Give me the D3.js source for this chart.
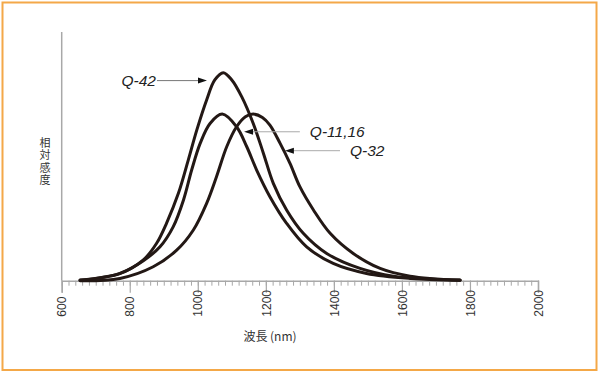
<!DOCTYPE html>
<html>
<head>
<meta charset="utf-8">
<script src="https://cdn.jsdelivr.net/npm/d3@7"></script>
<style>
  body { margin: 0; background: #fff; }
  svg { display: block; }
</style>
</head>
<body>
<svg width="600" height="373"></svg>
<script>
// wavelength (nm) and relative sensitivity
var q42 = [[654, 0.003], [771, 0.035], [840, 0.10], [879, 0.18], [908, 0.276], [943, 0.42], [972, 0.58],
  [997, 0.724], [1026, 0.869], [1050, 0.965], [1075, 1.0], [1100, 0.965], [1129, 0.885], [1163, 0.756],
  [1193, 0.612], [1222, 0.468], [1261, 0.34], [1310, 0.228], [1379, 0.131], [1477, 0.059],
  [1575, 0.022], [1771, 0.003]];
var q1116 = [[654, 0.002], [771, 0.034], [840, 0.096], [889, 0.163], [928, 0.26], [958, 0.388],
  [982, 0.532], [1007, 0.66], [1036, 0.756], [1072, 0.801], [1114, 0.74], [1144, 0.644], [1173, 0.532],
  [1212, 0.404], [1261, 0.276], [1320, 0.163], [1398, 0.083], [1496, 0.035], [1624, 0.011], [1771, 0.002]];
var q32 = [[654, 0.0], [771, 0.011], [869, 0.067], [938, 0.147], [987, 0.244], [1026, 0.372],
  [1055, 0.5], [1085, 0.644], [1114, 0.74], [1140, 0.788], [1163, 0.801], [1190, 0.785], [1212, 0.748],
  [1242, 0.66], [1271, 0.564], [1300, 0.452], [1340, 0.34], [1389, 0.228], [1457, 0.131], [1536, 0.059],
  [1624, 0.022], [1771, 0.002]];

var xTicks = [600, 800, 1000, 1200, 1400, 1600, 1800, 2000];
var yLabel = "相対感度";
var xLabel = "波長 (nm)";

// label, arrow tip [nm, value], arrow tail nm, side
var notes = [
  { name: "Q-42", tip: [1027, 0.962], tail: 880, side: "left" },
  { name: "Q-11,16", tip: [1136, 0.716], tail: 1300, side: "right" },
  { name: "Q-32", tip: [1256, 0.625], tail: 1418, side: "right" }
];

var svg = d3.select("svg");

// orange frame
svg.append("rect")
  .attr("x", 2.5).attr("y", 2.5)
  .attr("width", 594).attr("height", 367.5)
  .attr("fill", "none")
  .attr("stroke", "#f4a848")
  .attr("stroke-width", 2);

var x = d3.scaleLinear().domain([600, 2000]).range([61.7, 538]);
var y = d3.scaleLinear().domain([0, 1]).range([280.7, 72.7]);

var axisCol = "#a8a8a8";

// y axis line
svg.append("line")
  .attr("x1", x(600)).attr("x2", x(600))
  .attr("y1", 32).attr("y2", y(0))
  .attr("stroke", axisCol).attr("stroke-width", 1.5);

// x axis: minor ticks every 20 nm, labelled every 200
var xg = svg.append("g").attr("transform", "translate(0," + y(0) + ")");
xg.call(d3.axisBottom(x).tickValues(d3.range(600, 2001, 20)).tickSize(5).tickFormat(""))
xg.call(g => g.select(".domain").remove());
xg.selectAll(".tick line").attr("stroke", axisCol).attr("stroke-width", 1);

var xg2 = svg.append("g").attr("transform", "translate(0," + y(0) + ")");
xg2.call(d3.axisBottom(x).tickValues(xTicks).tickSize(12).tickFormat(d3.format("d")));
xg2.select(".domain").attr("stroke", axisCol).attr("stroke-width", 1.5);
xg2.selectAll(".tick line").attr("stroke", axisCol).attr("stroke-width", 1.2);
xg2.selectAll(".tick text")
  .attr("transform", "rotate(-90)")
  .attr("x", -36).attr("y", 0).attr("dy", "0.35em")
  .attr("text-anchor", "start")
  .attr("fill", "#333")
  .style("font-family", "Liberation Sans, Arial, sans-serif")
  .style("font-size", "12px");

// axis titles
svg.append("text")
  .attr("x", 270).attr("y", 341)
  .attr("text-anchor", "middle")
  .attr("fill", "#333")
  .style("font-family", "Noto Sans CJK JP, sans-serif")
  .style("font-size", "12px")
  .text(xLabel);

// vertical title, written top to bottom
svg.append("text")
  .attr("x", 45).attr("y", 137)
  .attr("fill", "#333")
  .style("writing-mode", "vertical-rl")
  .style("letter-spacing", "1.5px")
  .style("font-family", "Noto Sans CJK JP, sans-serif")
  .style("font-size", "11px")
  .text(yLabel);

// curves
var line = d3.line()
  .x(d => x(d[0]))
  .y(d => y(d[1]))
  .curve(d3.curveCatmullRom.alpha(0.5));

svg.append("g").selectAll("path").data([q32, q1116, q42]).join("path")
  .attr("d", line)
  .attr("fill", "none")
  .attr("stroke", "#231815")
  .attr("stroke-width", 3)
  .attr("stroke-linecap", "round");

// callouts
var ng = svg.append("g").selectAll("g").data(notes).join("g");
ng.append("line")
  .attr("x1", d => x(d.tail))
  .attr("x2", d => x(d.tip[0]) + (d.side == "left" ? -6 : 6))
  .attr("y1", d => y(d.tip[1])).attr("y2", d => y(d.tip[1]))
  .attr("stroke", (d, i) => i == 0 ? "#777" : "#aaa")
  .attr("stroke-width", 1);
ng.append("path")
  .attr("d", d => {
    var tx = x(d.tip[0]), ty = y(d.tip[1]), s = d.side == "left" ? -1 : 1;
    return "M" + tx + "," + ty + "L" + (tx + s * 9) + "," + (ty - 3) + "L" + (tx + s * 9) + "," + (ty + 3) + "Z";
  })
  .attr("fill", "#111");
ng.append("text")
  .attr("x", d => d.side == "left" ? x(d.tail) - 1 : x(d.tail) + 10)
  .attr("y", d => y(d.tip[1]))
  .attr("dy", "0.36em")
  .attr("text-anchor", d => d.side == "left" ? "end" : "start")
  .attr("fill", "#222")
  .style("font-family", "Liberation Sans, Arial, sans-serif")
  .style("font-style", "italic")
  .style("font-size", "15.5px")
  .text(d => d.name);
</script>
</body>
</html>
